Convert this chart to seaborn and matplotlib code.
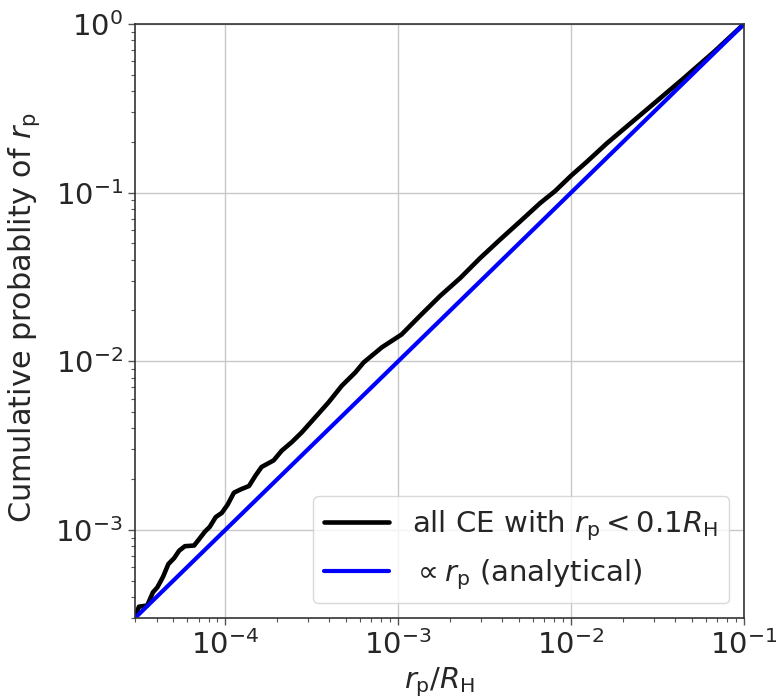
import matplotlib
matplotlib.use("Agg")
import matplotlib.pyplot as plt
import seaborn as sns
import pandas as pd

# Cumulative distribution of pericentre distances (in units of the Hill radius)
rp_over_rh = [3.0e-5, 3.05e-5, 3.16e-5, 3.53e-5, 3.81e-5, 4.04e-5, 4.36e-5,
              4.68e-5, 5.05e-5, 5.40e-5, 5.83e-5, 6.59e-5, 7.05e-5, 7.62e-5,
              8.11e-5, 8.79e-5, 9.53e-5, 1.03e-4, 1.12e-4, 1.23e-4, 1.37e-4,
              1.49e-4, 1.62e-4, 1.90e-4, 2.12e-4, 2.42e-4, 2.77e-4, 3.31e-4,
              3.95e-4, 4.72e-4, 5.65e-4, 6.31e-4, 8.05e-4, 1.045e-3, 1.33e-3,
              1.74e-3, 2.28e-3, 2.97e-3, 3.87e-3, 5.06e-3, 6.60e-3, 8.07e-3,
              1.0e-2, 1.23e-2, 1.61e-2, 2.20e-2, 2.59e-2, 4.40e-2, 6.71e-2,
              1.0e-1]
cum_prob = [3.0e-4, 3.17e-4, 3.50e-4, 3.56e-4, 4.26e-4, 4.56e-4, 5.27e-4,
            6.27e-4, 6.79e-4, 7.52e-4, 8.00e-4, 8.07e-4, 8.81e-4, 9.77e-4,
            1.04e-3, 1.19e-3, 1.26e-3, 1.41e-3, 1.66e-3, 1.74e-3, 1.82e-3,
            2.09e-3, 2.36e-3, 2.58e-3, 2.95e-3, 3.31e-3, 3.79e-3, 4.65e-3,
            5.70e-3, 7.16e-3, 8.59e-3, 9.84e-3, 1.21e-2, 1.44e-2, 1.85e-2,
            2.43e-2, 3.11e-2, 4.08e-2, 5.25e-2, 6.73e-2, 8.64e-2, 0.102,
            0.126, 0.152, 0.196, 0.257, 0.296, 0.469, 0.684,
            1.0]

# Analytical expectation, linear in r_p
fit_x = [3.0e-5, 1.0e-1]
fit_y = [3.0e-4, 1.0]

curve = pd.DataFrame({"x": rp_over_rh, "y": cum_prob})
fit = pd.DataFrame({"x": fit_x, "y": fit_y})

sns.set_theme(style="white")
plt.rcParams["font.family"] = ["DejaVu Sans"]
plt.rcParams["mathtext.fontset"] = "dejavusans"

fig = plt.figure(figsize=(7.79, 6.98), dpi=100)
ax = fig.add_axes([0.1733, 0.1146, 0.7817, 0.851])

sns.lineplot(data=curve, x="x", y="y", ax=ax, color="black", lw=3.3,
             sort=False, estimator=None,
             label=r"all CE with $r_\mathrm{p}<0.1R_\mathrm{H}$")
sns.lineplot(data=fit, x="x", y="y", ax=ax, color="blue", lw=3,
             sort=False, estimator=None,
             label=r"$\propto r_\mathrm{p}$ (analytical)")

ax.set_xscale("log")
ax.set_yscale("log")
ax.set_xlim(3.0e-5, 1.0e-1)
ax.set_ylim(3.0e-4, 1.0)

ax.grid(True, which="major", color="#c8c8c8", lw=1)
ax.tick_params(which="major", direction="out", length=5, width=1,
               labelsize=21, bottom=True, left=True, color="#555555")
ax.tick_params(which="minor", direction="out", length=3, width=0.8,
               bottom=True, left=True, color="#555555")
for s in ax.spines.values():
    s.set_color("#333333")
    s.set_linewidth(1.2)

ax.set_xlabel(r"$r_\mathrm{p}/R_\mathrm{H}$", fontsize=21, labelpad=4)
ax.set_ylabel(r"Cumulative probablity of $r_\mathrm{p}$", fontsize=21.8)
ax.yaxis.set_label_coords(-0.152, 0.506)

ax.legend(loc="lower right", fontsize=21, frameon=True, framealpha=0.8,
          edgecolor="#d0d0d0", borderaxespad=0.5, handlelength=2.2)

fig.savefig("out.png", dpi=100)
